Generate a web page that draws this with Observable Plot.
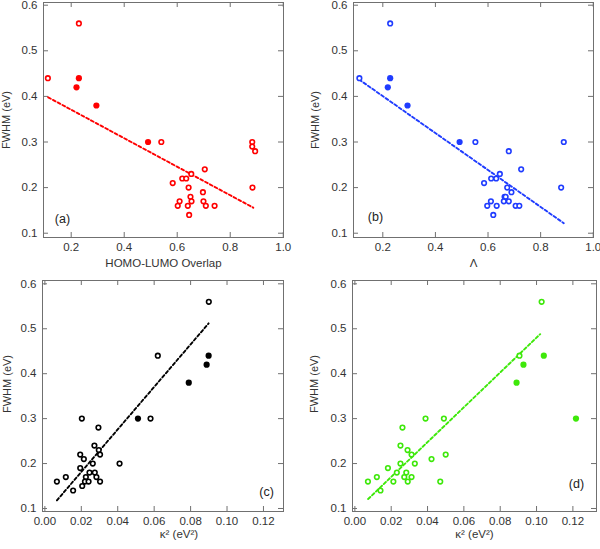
<!DOCTYPE html>
<html><head><meta charset="utf-8">
<script src="https://cdn.jsdelivr.net/npm/d3@7"></script>
<script src="https://cdn.jsdelivr.net/npm/@observablehq/plot@0.6"></script>
<style>
body{margin:0;background:#fff;}
#fig{position:relative;width:600px;height:549px;overflow:hidden;}
#fig svg{position:absolute;overflow:visible;}
</style></head><body><div id="fig"></div>
<script>
// ---- tick labels ----
const fwhmTicks = [0.1, 0.2, 0.3, 0.4, 0.5, 0.6];
const overlapTicks = [0.2, 0.4, 0.6, 0.8, 1.0];
const kappaTicks = [0, 0.02, 0.04, 0.06, 0.08, 0.10, 0.12];

// ---- panel (a): FWHM vs HOMO-LUMO overlap ----
const aOpenX = [0.112,0.229,0.54,0.883,0.883,0.894,0.704,0.653,0.619,0.634,0.583,0.643,0.884,0.697,0.65,0.609,0.654,0.699,0.602,0.64,0.708,0.741,0.645];
const aOpenY = [0.44,0.56,0.30,0.30,0.29,0.28,0.24,0.23,0.22,0.22,0.21,0.20,0.20,0.19,0.18,0.17,0.17,0.17,0.16,0.16,0.16,0.16,0.14];
const aFillX = [0.229,0.22,0.295,0.49];
const aFillY = [0.44,0.42,0.38,0.30];
const aTrendX = [0.113,0.887];
const aTrendY = [0.398,0.156];

// ---- panel (b): FWHM vs Lambda ----
const bOpenX = [0.111,0.228,0.552,0.888,0.679,0.726,0.645,0.612,0.631,0.585,0.673,0.878,0.689,0.663,0.667,0.66,0.679,0.611,0.597,0.633,0.705,0.719,0.62];
const bOpenY = [0.44,0.56,0.30,0.30,0.28,0.24,0.23,0.22,0.22,0.21,0.20,0.20,0.19,0.18,0.18,0.17,0.17,0.17,0.16,0.16,0.16,0.16,0.14];
const bFillX = [0.228,0.219,0.294,0.492];
const bFillY = [0.44,0.42,0.38,0.30];
const bTrendX = [0.110,0.888];
const bTrendY = [0.437,0.122];

// ---- panel (c): FWHM vs kappa^2 (black) ----
const cOpenX = [0.0066,0.0115,0.0155,0.0203,0.0194,0.0194,0.0214,0.0205,0.0225,0.022,0.024,0.0245,0.0263,0.0272,0.0274,0.0283,0.0294,0.0296,0.0303,0.0303,0.041,0.058,0.062,0.090];
const cOpenY = [0.16,0.17,0.14,0.30,0.22,0.19,0.21,0.15,0.17,0.16,0.16,0.18,0.20,0.24,0.18,0.17,0.28,0.23,0.22,0.16,0.20,0.30,0.44,0.56];
const cFillX = [0.0511,0.079,0.0888,0.0899];
const cFillY = [0.30,0.38,0.42,0.44];
const cTrendX = [0.0066,0.0899];
const cTrendY = [0.118,0.512];

// ---- panel (d): FWHM vs kappa^2 (green) ----
const dOpenX = [0.0072,0.0121,0.0141,0.0182,0.0212,0.0231,0.0251,0.0251,0.0262,0.0272,0.0283,0.029,0.0291,0.0312,0.0312,0.033,0.0389,0.0422,0.047,0.049,0.050,0.0906,0.1028];
const dOpenY = [0.16,0.17,0.14,0.19,0.16,0.18,0.20,0.24,0.28,0.17,0.18,0.23,0.16,0.22,0.17,0.20,0.30,0.21,0.16,0.30,0.22,0.44,0.56];
const dFillX = [0.089,0.0928,0.104,0.1217];
const dFillY = [0.38,0.42,0.44,0.30];
const dTrendX = [0.0073,0.102];
const dTrendY = [0.121,0.488];

function pts(xs, ys) { return xs.map((x, i) => ({x, y: ys[i]})); }

const FONT = "'Liberation Sans', Arial, Helvetica, sans-serif";
const GRAY = "#707070";
const TXT = "#333";

function panel(c) {
  const ih = c.height - c.mt - c.mb;
  const iw = c.width - c.ml - c.mr;
  const svg = Plot.plot({
    width: c.width, height: c.height,
    marginLeft: c.ml, marginRight: c.mr, marginTop: c.mt, marginBottom: c.mb,
    style: {fontFamily: FONT, fontSize: "11px", color: TXT, background: "transparent", overflow: "visible"},
    x: {domain: c.xDomain},
    y: {domain: c.yDomain},
    marks: [
      Plot.frame({stroke: GRAY, strokeWidth: 1}),
      Plot.tickX(c.xTicks, {x: d => d, stroke: GRAY, insetTop: ih - 5}),
      Plot.tickX(c.xTicks, {x: d => d, stroke: GRAY, insetBottom: ih - 5}),
      Plot.tickY(fwhmTicks, {y: d => d, stroke: GRAY, insetRight: iw - 5}),
      Plot.tickY(fwhmTicks, {y: d => d, stroke: GRAY, insetLeft: iw - 5}),
      Plot.axisX({ticks: c.xTicks, tickSize: 0, tickPadding: 5, tickFormat: c.xFmt, label: null, fill: TXT, fontSize: 11.5}),
      Plot.axisY({ticks: fwhmTicks, tickSize: 0, tickPadding: 6, tickFormat: d3.format(".1f"), label: null, fill: TXT, fontSize: 11.5}),
      Plot.text([c.xLabel], {text: d => d, frameAnchor: "bottom", textAnchor: "middle", lineAnchor: "middle", dy: c.xLabelDy, dx: c.xLabelDx, fill: TXT, fontSize: 11.5}),
      Plot.text(["FWHM (eV)"], {text: d => d, frameAnchor: "left", textAnchor: "middle", lineAnchor: "middle", rotate: -90, dx: c.yLabelDx, dy: c.yLabelDy, fill: TXT, fontSize: 11}),
      Plot.line(pts(c.tx, c.ty), {x: "x", y: "y", stroke: c.color, strokeWidth: 1.9, strokeDasharray: "3,2.4"}),
      Plot.dot(pts(c.ox, c.oy), {x: "x", y: "y", r: 2.3, stroke: c.color, strokeWidth: 1.6, fill: "white"}),
      Plot.dot(pts(c.fx, c.fy), {x: "x", y: "y", r: 3.1, fill: c.color, stroke: "none"}),
      Plot.text([c.tag], {text: d => d, frameAnchor: c.tagAnchor, textAnchor: "middle", lineAnchor: "middle", dx: c.tagDx, dy: c.tagDy, fill: "#222", fontSize: 12.5})
    ]
  });
  svg.style.left = c.left + "px";
  svg.style.top = c.top + "px";
  document.getElementById("fig").appendChild(svg);
}

const fmt1 = d3.format(".1f");
const fmt2 = d3.format(".2f");

panel({left: 0, top: 0, width: 300, height: 275, ml: 43, mr: 17, mt: 2, mb: 38,
  xDomain: [0.0955, 1.001], yDomain: [0.0906, 0.6059], xTicks: overlapTicks, xFmt: fmt1,
  xLabel: "HOMO-LUMO Overlap", xLabelDx: 0, xLabelDy: 26, yLabelDx: -37, yLabelDy: 0,
  ox: aOpenX, oy: aOpenY, fx: aFillX, fy: aFillY, tx: aTrendX, ty: aTrendY, color: "#ff0000",
  tag: "(a)", tagAnchor: "bottom-left", tagDx: 19, tagDy: -19});

panel({left: 300, top: 0, width: 300, height: 275, ml: 53, mr: 7, mt: 2, mb: 38,
  xDomain: [0.0886, 1.001], yDomain: [0.0906, 0.6059], xTicks: overlapTicks, xFmt: fmt1,
  xLabel: "Λ", xLabelDx: 0, xLabelDy: 26, yLabelDx: -38, yLabelDy: 0,
  ox: bOpenX, oy: bOpenY, fx: bFillX, fy: bFillY, tx: bTrendX, ty: bTrendY, color: "#1f3cff",
  tag: "(b)", tagAnchor: "bottom-left", tagDx: 22, tagDy: -21});

panel({left: 0, top: 275, width: 300, height: 274, ml: 42, mr: 17, mt: 5, mb: 38,
  xDomain: [-0.0013, 0.131], yDomain: [0.0933, 0.6074], xTicks: kappaTicks, xFmt: fmt2,
  xLabel: "κ² (eV²)", xLabelDx: 16, xLabelDy: 23, yLabelDx: -35.5, yLabelDy: -12,
  ox: cOpenX, oy: cOpenY, fx: cFillX, fy: cFillY, tx: cTrendX, ty: cTrendY, color: "#000000",
  tag: "(c)", tagAnchor: "bottom-right", tagDx: -17, tagDy: -20});

panel({left: 300, top: 275, width: 300, height: 274, ml: 52, mr: 4, mt: 5, mb: 38,
  xDomain: [-0.0013, 0.133], yDomain: [0.0933, 0.6074], xTicks: kappaTicks, xFmt: fmt2,
  xLabel: "κ² (eV²)", xLabelDx: 0, xLabelDy: 23, yLabelDx: -38, yLabelDy: -12,
  ox: dOpenX, oy: dOpenY, fx: dFillX, fy: dFillY, tx: dTrendX, ty: dTrendY, color: "#3ee80a",
  tag: "(d)", tagAnchor: "bottom-right", tagDx: -20, tagDy: -28});
</script>
</body></html>
